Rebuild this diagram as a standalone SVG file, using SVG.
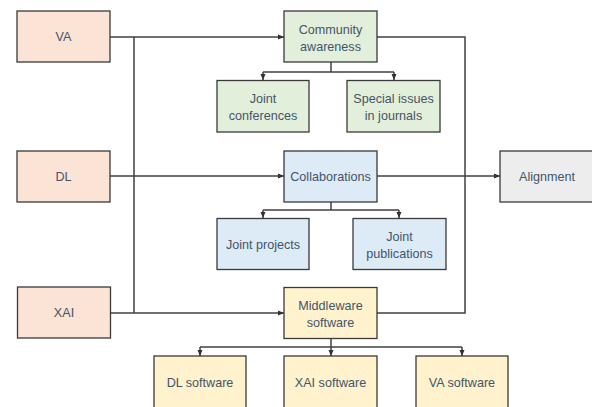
<svg xmlns="http://www.w3.org/2000/svg" width="592" height="407" viewBox="0 0 592 407">
<style>
.b{stroke:#3a3a3a;stroke-width:1.3}
.src{fill:#fbe3d6}
.g{fill:#e2efda}
.bl{fill:#ddebf7}
.y{fill:#fff2cc}
.gr{fill:#ededed}
text{font-family:"Liberation Sans",Arial,sans-serif;font-size:12.6px;fill:#44546a;text-anchor:middle}
.c{fill:none;stroke:#404040;stroke-width:1.5}
</style>
<defs>
<marker id="a" viewBox="0 0 6 6" refX="6" refY="3" markerWidth="6" markerHeight="6" markerUnits="userSpaceOnUse" orient="auto">
<path d="M0,0.5 L6,3 L0,5.5 Z" fill="#303030"/>
</marker>
</defs>
<rect width="592" height="407" fill="#fff"/>
<g id="connectors">
<path class="c" d="M110,37 H284" marker-end="url(#a)"/>
<path class="c" d="M134,37 V313"/>
<path class="c" d="M110,176 H284" marker-end="url(#a)"/>
<path class="c" d="M110,313 H284" marker-end="url(#a)"/>
<path class="c" d="M377,37 H465 V313 H377"/>
<path class="c" d="M377,176 H500" marker-end="url(#a)"/>
<path class="c" d="M331,62 V72"/>
<path class="c" d="M263,72 H394"/>
<path class="c" d="M263,72 V80" marker-end="url(#a)"/>
<path class="c" d="M394,72 V80" marker-end="url(#a)"/>
<path class="c" d="M331,202 V210"/>
<path class="c" d="M263,210 H399"/>
<path class="c" d="M263,210 V218" marker-end="url(#a)"/>
<path class="c" d="M399,210 V218" marker-end="url(#a)"/>
<path class="c" d="M331,339 V347"/>
<path class="c" d="M200,347 H462"/>
<path class="c" d="M200,347 V356" marker-end="url(#a)"/>
<path class="c" d="M331,347 V356" marker-end="url(#a)"/>
<path class="c" d="M462,347 V356" marker-end="url(#a)"/>
</g>
<g id="va"><rect class="b src" x="17" y="11" width="93" height="51"/><text x="63.5" y="41">VA</text></g>
<g id="dl"><rect class="b src" x="17" y="151" width="93" height="51"/><text x="63.5" y="180.5">DL</text></g>
<g id="xai"><rect class="b src" x="17.5" y="287" width="93" height="51"/><text x="64" y="317">XAI</text></g>
<g id="community"><rect class="b g" x="284" y="11" width="93" height="51"/><text x="330.5" y="33.5">Community</text><text x="330.5" y="50.5">awareness</text></g>
<g id="joint-conferences"><rect class="b g" x="217" y="80.5" width="92" height="51.5"/><text x="263" y="103">Joint</text><text x="263" y="120">conferences</text></g>
<g id="special-issues"><rect class="b g" x="347" y="80.5" width="93" height="51.5"/><text x="393.5" y="103">Special issues</text><text x="393.5" y="120">in journals</text></g>
<g id="collaborations"><rect class="b bl" x="284" y="151" width="93" height="51"/><text x="330.5" y="180.5">Collaborations</text></g>
<g id="alignment"><rect class="b gr" x="500" y="151" width="96" height="51"/><text x="547" y="180.5">Alignment</text></g>
<g id="joint-projects"><rect class="b bl" x="217" y="218.5" width="92" height="51"/><text x="263" y="248.5">Joint projects</text></g>
<g id="joint-publications"><rect class="b bl" x="353" y="218.5" width="93" height="51"/><text x="399.5" y="240.5">Joint</text><text x="399.5" y="257.5">publications</text></g>
<g id="middleware"><rect class="b y" x="284" y="287.5" width="93" height="51"/><text x="330.5" y="309.5">Middleware</text><text x="330.5" y="326.5">software</text></g>
<g id="dl-software"><rect class="b y" x="154" y="356" width="92" height="55"/><text x="200" y="386.5">DL software</text></g>
<g id="xai-software"><rect class="b y" x="284" y="356" width="93" height="55"/><text x="330.5" y="386.5">XAI software</text></g>
<g id="va-software"><rect class="b y" x="416" y="356" width="92" height="55"/><text x="462" y="386.5">VA software</text></g>
</svg>
